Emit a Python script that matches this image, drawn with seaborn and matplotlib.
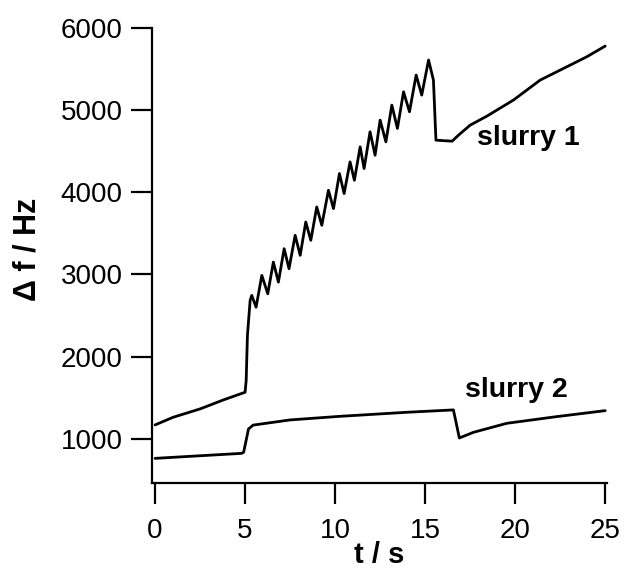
import matplotlib
matplotlib.use("Agg")
import matplotlib.pyplot as plt
import seaborn as sns
import pandas as pd

# ---- data ----
slurry1_t = [0, 1.0, 2.5, 3.8, 5.0, 5.06, 5.13, 5.28, 5.37, 5.61, 5.93, 6.26, 6.57,
             6.85, 7.17, 7.44, 7.78, 8.06, 8.37, 8.65, 8.98, 9.26, 9.63, 9.91, 10.24,
             10.5, 10.83, 11.07, 11.39, 11.61, 11.94, 12.22, 12.5, 12.82, 13.15, 13.46,
             13.8, 14.13, 14.5, 14.81, 15.19, 15.46, 15.6, 16.5, 16.85, 17.5, 18.43,
             19.9, 21.39, 22.87, 23.98, 25.0]
slurry1_df = [1167, 1260, 1362, 1472, 1565, 1707, 2256, 2683, 2744, 2601, 2988, 2764,
              3150, 2906, 3313, 3069, 3476, 3232, 3638, 3415, 3821, 3598, 4024, 3801,
              4228, 3984, 4370, 4146, 4553, 4289, 4736, 4451, 4878, 4614, 5061, 4777,
              5223, 4980, 5427, 5183, 5610, 5366, 4634, 4622, 4695, 4817, 4927, 5122,
              5366, 5528, 5650, 5780]

slurry2_t = [0, 4.81, 4.92, 5.19, 5.45, 7.5, 10.28, 13.98, 16.57, 16.9, 17.68, 19.54, 22.3, 25.0]
slurry2_df = [760, 821, 835, 1118, 1165, 1228, 1272, 1321, 1350, 1008, 1077, 1187, 1268, 1341]

series_labels = ["slurry 1", "slurry 2"]
x_ticks = [0, 5, 10, 15, 20, 25]
y_ticks = [1000, 2000, 3000, 4000, 5000, 6000]

df = pd.concat([
    pd.DataFrame({"t": slurry1_t, "df": slurry1_df, "series": series_labels[0]}),
    pd.DataFrame({"t": slurry2_t, "df": slurry2_df, "series": series_labels[1]}),
])

sns.set_theme(style="ticks")
plt.rcParams["font.family"] = ["Liberation Sans", "DejaVu Sans"]
for key in ("text.color", "axes.labelcolor", "xtick.color", "ytick.color", "axes.edgecolor"):
    plt.rcParams[key] = "black"

fig = plt.figure(figsize=(6.27, 5.76), dpi=100)
ax = fig.add_axes([152 / 627, 1 - 483 / 576, (607 - 152) / 627, (483 - 28) / 576])

sns.lineplot(data=df, x="t", y="df", units="series", estimator=None, sort=False,
             color="black", linewidth=2.0, ax=ax, legend=False)

ax.set_xlim(-0.17, 25.1)
ax.set_ylim(460, 6000)
ax.set_xticks(x_ticks)
ax.set_yticks(y_ticks)
ax.set_xticklabels([str(v) for v in x_ticks])
ax.set_yticklabels([str(v) for v in y_ticks])

for side in ("top", "right"):
    ax.spines[side].set_visible(False)
for side in ("left", "bottom"):
    ax.spines[side].set_linewidth(1.6)
    ax.spines[side].set_color("black")

ax.tick_params(axis="both", direction="out", length=15, width=1.6, colors="black",
               labelsize=20)
ax.tick_params(axis="x", pad=10)
ax.tick_params(axis="y", pad=6)

ax.set_xlabel("t / s", fontsize=21, fontweight="bold")
ax.set_ylabel("Δ f / Hz", fontsize=22, fontweight="bold")
ax.xaxis.set_label_coords(0.5, -0.128)
ax.yaxis.set_label_coords(-0.24, (483 - 249) / 455)

ax.text(17.9, 4659, series_labels[0], fontsize=20.5, fontweight="bold", va="center", ha="left")
ax.text(17.2, 1598, series_labels[1], fontsize=20.5, fontweight="bold", va="center", ha="left")

fig.savefig("out.png", dpi=100, facecolor="white")
